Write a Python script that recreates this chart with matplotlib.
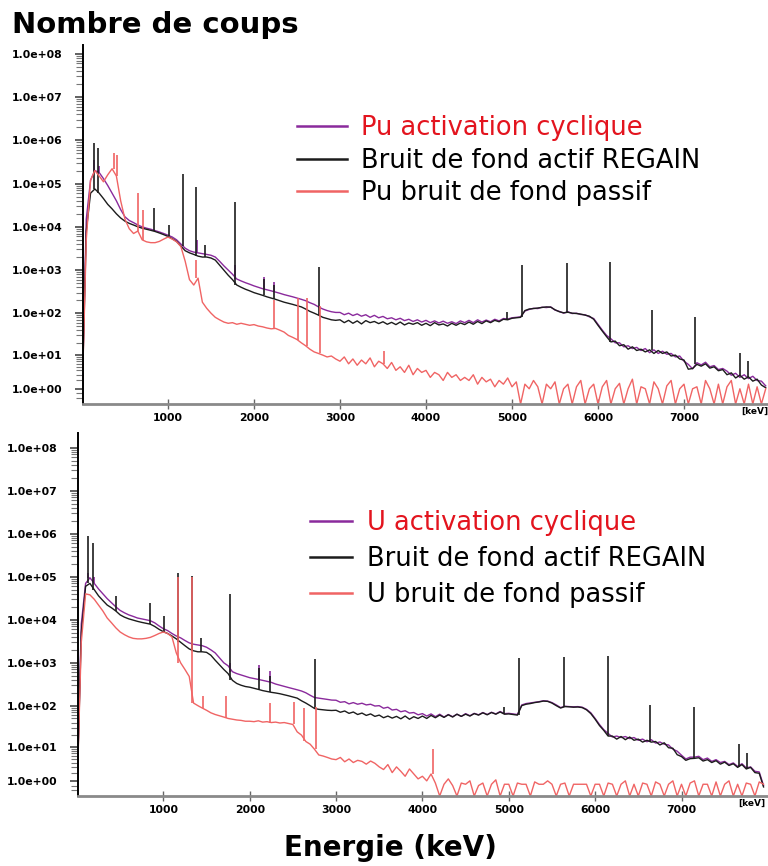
import numpy as np
import matplotlib
matplotlib.use('Agg')
import matplotlib.pyplot as plt

# Canaux en énergie (keV), pas de 50 keV
energie = np.arange(0, 8000, 50)

# --- Spectres Pu (panneau du haut), nombre de coups par canal ---
violet_haut = [
    0, 15000, 120000, 200000, 180000, 130000, 90000, 60000, 40000, 25000,   # 0-450
    17000, 14000, 12500, 11000, 10000, 9300, 8800, 8200, 7600, 7000,        # 500-950
    6400, 5800, 5000, 4000, 3200, 2800, 2600, 2500, 2400, 2300,             # 1000-1450
    2200, 2000, 1600, 1250, 1000, 800, 620, 560, 510, 470,                  # 1500-1950
    430, 400, 370, 350, 330, 310, 290, 270, 255, 240,                       # 2000-2450
    225, 210, 195, 175, 160, 140, 125, 115, 108, 104,                       # 2500-2950
    104, 92, 100, 88, 96, 85, 92, 80, 89, 78,                               # 3000-3450
    84, 74, 78, 70, 76, 67, 72, 64, 70, 62,                                 # 3500-3950
    68, 60, 66, 59, 65, 58, 63, 57, 66, 60,                                 # 4000-4450
    68, 60, 70, 62, 69, 63, 72, 66, 75, 73,                                 # 4500-4950
    78, 80, 82, 112, 122, 130, 128, 138, 135, 140,                          # 5000-5450
    118, 110, 100, 108, 98, 100, 93, 92, 82, 75,                            # 5500-5950
    55, 40, 30, 25, 20, 20, 16, 17, 14.5, 15.5,                             # 6000-6450
    13, 14.5, 11.5, 13.5, 11, 12.5, 10.5, 11, 9, 9.5,                       # 6500-6950
    7, 5.8, 4.4, 6.4, 5.6, 6.6, 5, 5.4, 4.2, 4.5,                           # 7000-7450
    3.8, 2.9, 3.3, 2.5, 3, 2.3, 2.7, 2, 1.9, 1.3,                           # 7500-7950
]
noir_haut = [
    0, 8000, 60000, 75000, 60000, 45000, 33000, 26000, 20000, 16000,
    13500, 12000, 11000, 10000, 9300, 8800, 8300, 7800, 7200, 6600,
    6000, 5300, 4600, 3600, 2800, 2500, 2300, 2100, 2000, 2000,
    1900, 1700, 1300, 1000, 760, 600, 450, 400, 360, 330,
    300, 280, 260, 240, 225, 210, 195, 180, 170, 160,
    150, 140, 125, 110, 100, 90, 80, 75, 70, 68,
    70, 60, 68, 58, 66, 56, 67, 60, 64, 57,
    63, 55, 61, 54, 62, 53, 59, 55, 60, 52,
    58, 51, 60, 53, 56, 50, 58, 52, 59, 54,
    62, 55, 64, 57, 66, 60, 68, 63, 72, 70,
    76, 78, 80, 115, 125, 128, 132, 136, 140, 138,
    120, 108, 102, 105, 100, 98, 95, 90, 85, 72,
    52, 38, 28, 21, 22, 17, 18, 14, 16, 13,
    14, 12, 13.5, 11, 13, 11, 12, 9.5, 10, 8,
    7.5, 4.3, 4.5, 5.8, 5.2, 6, 4.6, 5, 3.9, 4.2,
    3, 3.4, 2.4, 2.9, 2.2, 2.6, 1.9, 2.2, 1.4, 1.1,
]
rouge_haut = [
    0, 5000, 120000, 200000, 150000, 110000, 160000, 220000, 150000, 40000,
    15000, 9000, 7000, 8000, 5000, 4500, 4300, 4300, 4600, 5200,
    5800, 5200, 4500, 3500, 1600, 600, 450, 650, 180, 130,
    100, 80, 70, 62, 58, 60, 55, 58, 55, 52,
    54, 50, 48, 45, 43, 44, 40, 36, 30, 27,
    24, 20, 17, 14, 12, 11, 10, 9, 9.5, 8,
    7, 9, 6, 8, 5.5, 7.5, 6, 8.5, 5, 7,
    6, 4.5, 6.5, 4, 5, 3.5, 5.5, 3, 4.5, 3.5,
    4, 2.5, 3.5, 3, 2, 3.5, 2.5, 3, 2, 2.5,
    2, 3, 1.5, 2.5, 1.8, 2.2, 1.2, 2, 1.5, 2.4,
    1.2, 1.8, 0, 1.5, 1, 2, 1.2, 0, 1.5, 1,
    1.8, 0, 1, 1.5, 0, 1.2, 2, 0, 1, 1.5,
    0, 1.2, 2, 0, 1, 1.6, 0, 1, 2.2, 0,
    1.2, 1, 0, 1.8, 1, 0, 1.3, 2, 0, 1,
    1.5, 0, 1, 1.2, 0, 2, 1, 0, 1.5, 0,
    1.2, 2, 0, 1, 0, 1.5, 0, 1.2, 0, 1,
]

# Raies (énergie keV, hauteur) du panneau du haut
violet_pics_haut_e = [145, 195, 1332, 1782, 2117, 2232]
violet_pics_haut_h = [350000, 250000, 5000, 1300, 700, 520]
noir_pics_haut_e = [140, 190, 840, 1015, 1170, 1330, 1430, 1780, 2115, 2230,
                    2760, 4940, 5120, 5640, 6140, 6625, 7130, 7655, 7745]
noir_pics_haut_h = [870000, 660000, 27000, 11000, 170000, 83000, 3800, 37000, 610, 450,
                    1200, 105, 1300, 1450, 1500, 117, 80, 11.5, 7.2]
rouge_pics_haut_e = [372, 412, 655, 705, 1326, 2232, 2512, 2622, 2762, 3512]
rouge_pics_haut_h = [500000, 450000, 62000, 24000, 1700, 200, 220, 230, 150, 13]

# --- Spectres U (panneau du bas) ---
violet_bas = [
    0, 8000, 70000, 95000, 70000, 52000, 40000, 31000, 25000, 20000,
    16500, 14500, 13000, 12000, 11000, 10500, 10000, 9500, 8500, 7200,
    6200, 5600, 4800, 4200, 3800, 3300, 2900, 2700, 2600, 2500,
    2300, 2000, 1700, 1300, 1000, 850, 620, 560, 520, 480,
    450, 430, 410, 390, 370, 350, 320, 300, 280, 265,
    250, 235, 220, 200, 175, 155, 150, 145, 140, 135,
    134, 120, 124, 110, 118, 108, 114, 104, 108, 98,
    100, 87, 92, 79, 82, 72, 76, 67, 69, 61,
    65, 57, 64, 55, 63, 54, 62, 55, 63, 56,
    65, 58, 66, 61, 69, 62, 70, 64, 73, 65,
    66, 64, 62, 104, 112, 116, 120, 124, 130, 128,
    118, 104, 90, 97, 95, 94, 95, 92, 82, 68,
    50, 36, 27, 22, 18, 19, 17.5, 18.5, 16.5, 17.5,
    15, 16, 13.8, 15.5, 12.8, 13.6, 12, 11.5, 9, 8,
    6.3, 5, 5.6, 5.6, 5.9, 4.8, 5.3, 4.3, 4.8, 4,
    4.3, 3.5, 3.9, 3.1, 3.7, 2.8, 3, 2.2, 2.1, 0.6,
]
noir_bas = [
    0, 5000, 60000, 70000, 50000, 36000, 28000, 22000, 19000, 16000,
    13000, 11500, 10500, 9800, 9200, 8700, 8300, 7900, 7000, 6000,
    5300, 4800, 4200, 3600, 3000, 2500, 2100, 1900, 1800, 1800,
    1750, 1500, 1150, 900, 700, 560, 390, 330, 300, 280,
    270, 255, 240, 225, 215, 205, 198, 190, 180, 170,
    160, 150, 130, 115, 100, 86, 82, 80, 78, 77,
    78, 70, 75, 66, 71, 62, 67, 59, 64, 56,
    60, 52, 57, 51, 56, 49, 57, 48, 55, 50,
    57, 50, 59, 52, 60, 53, 61, 54, 63, 56,
    63, 57, 65, 60, 68, 61, 69, 63, 71, 63,
    64, 62, 60, 100, 108, 112, 118, 122, 128, 126,
    115, 100, 88, 95, 94, 92, 93, 90, 80, 65,
    48, 34, 26, 19, 19, 16, 18.5, 15.5, 18, 15,
    16, 13.5, 15, 13.5, 14, 11.5, 13, 9.8, 9.5, 6.5,
    5.8, 4.6, 5.1, 5.2, 5.4, 4.4, 4.8, 4, 4.5, 3.6,
    4.1, 3.3, 3.7, 2.9, 3.5, 2.6, 2.9, 2, 1.9, 0.5,
]
rouge_bas = [
    0, 3000, 40000, 38000, 30000, 22000, 16000, 11000, 8500, 6500,
    5200, 4500, 4000, 3700, 3600, 3600, 3700, 3900, 4300, 4800,
    5200, 4800, 4000, 1700, 1000, 700, 480, 115, 100, 88,
    78, 68, 62, 58, 54, 50, 48, 46, 45, 43,
    43, 42, 44, 41, 42, 40, 41, 39, 40, 38,
    36, 24, 20, 14, 12, 9, 6.4, 6, 5.5, 5,
    4.8, 5.5, 4.2, 5, 4, 4.6, 4.3, 3.6, 4.4, 3.8,
    3, 2.5, 3.5, 2, 3, 2.2, 1.5, 2.6, 1.8, 1.2,
    1.5, 1, 1.8, 0.8, 0, 0.7, 1.2, 0.6, 0, 0.8,
    0.7, 1, 0, 0.6, 0.8, 0, 0.7, 1.1, 0, 0.7,
    0.7, 0, 0.8, 0.7, 0.7, 0, 0.9, 0.7, 0.7, 1,
    0.7, 0, 0.7, 0.8, 0, 0.7, 0.7, 0.7, 0.7, 0,
    0.7, 0.7, 0, 0.8, 0.7, 0, 0.7, 1, 0, 0.7,
    0, 0.8, 0.7, 0, 0.9, 0.7, 0, 0.7, 1, 0,
    0.7, 0, 0.8, 1, 0, 0.7, 0.7, 0, 0.9, 0,
    0.7, 1, 0, 0.7, 0, 0.8, 0.7, 0, 0.9, 0.7,
]

violet_pics_bas_e = [132, 192, 1777, 2112, 2232]
violet_pics_bas_h = [120000, 100000, 1000, 900, 640]
noir_pics_bas_e = [130, 190, 455, 840, 1005, 1175, 1330, 1440, 1775, 2110,
                   2230, 2760, 4940, 5120, 5640, 6145, 6630, 7145, 7660, 7755]
noir_pics_bas_h = [900000, 620000, 36000, 25000, 12000, 120000, 105000, 3800, 40000, 760,
                   500, 1230, 95, 1290, 1380, 1400, 104, 93, 12, 7]
rouge_pics_bas_e = [1175, 1332, 1460, 1730, 2230, 2510, 2630, 2765, 4120]
rouge_pics_bas_h = [100000, 100000, 170, 170, 115, 125, 86, 95, 9.2]

graduations_y = [1, 10, 100, 1e3, 1e4, 1e5, 1e6, 1e7, 1e8]
graduations_x = [1000, 2000, 3000, 4000, 5000, 6000, 7000]

COUL_VIOLET = '#8a2a9c'
COUL_NOIR = '#1c1c1c'
COUL_ROUGE = '#f06464'


def transfo(y):
    return np.log10(np.clip(y, 0, None) + 0.8)


def transfo_inv(t):
    return 10.0 ** t - 0.8


def tracer(ax, continu, pics_e, pics_h, couleur):
    # continuum + raies verticales posées sur le canal le plus proche
    ligne, = ax.plot(energie, continu, color=couleur, lw=1.0)
    idx = np.clip(np.round(np.asarray(pics_e) / 50).astype(int), 0, len(energie) - 1)
    base = np.asarray(continu, dtype=float)[idx]
    ax.vlines(pics_e, base, pics_h, color=couleur, lw=1.2)
    return ligne


def habiller(ax, xmax, ymax):
    ax.set_yscale('function', functions=(transfo, transfo_inv))
    ax.set_xlim(12, xmax)
    ax.set_ylim(0, ymax)
    for cote in ['top', 'right']:
        ax.spines[cote].set_visible(False)
    ax.spines['left'].set_color('black')
    ax.spines['left'].set_linewidth(1.4)
    ax.spines['bottom'].set_color('#8a8a8a')
    ax.spines['bottom'].set_linewidth(2)
    ax.set_yticks(graduations_y, labels=[f'{v:.1e}' for v in graduations_y],
                  fontweight='bold', fontsize=7.8)
    mineures = [m * 10 ** k for k in range(0, 8) for m in range(2, 10)] + [0.3, 0.6]
    ax.set_yticks(mineures, minor=True)
    ax.tick_params(axis='y', which='major', length=6, width=1.3, color='#555555', pad=9)
    ax.tick_params(axis='y', which='minor', length=5, width=0.8, color='#777777')
    ax.set_xticks(graduations_x, labels=[str(v) for v in graduations_x],
                  fontweight='bold', fontsize=7.8)
    ax.tick_params(axis='x', direction='inout', length=7, width=1, color='#666666', pad=3)


fig = plt.figure(figsize=(7.68, 8.66), dpi=100)
ax_haut = fig.add_axes([83 / 768, 1 - 404 / 866, 684 / 768, 359 / 866])
ax_bas = fig.add_axes([78 / 768, 1 - 796 / 866, 689 / 768, 363 / 866])

panneaux = [
    (ax_haut, 'Pu', violet_haut, noir_haut, rouge_haut,
     (violet_pics_haut_e, violet_pics_haut_h), (noir_pics_haut_e, noir_pics_haut_h),
     (rouge_pics_haut_e, rouge_pics_haut_h), 7965, 1.6e8, (297, 115), 0.26, 1.95),
    (ax_bas, 'U', violet_bas, noir_bas, rouge_bas,
     (violet_pics_bas_e, violet_pics_bas_h), (noir_pics_bas_e, noir_pics_bas_h),
     (rouge_pics_bas_e, rouge_pics_bas_h), 7990, 2.2e8, (310, 510), 0.38, 1.65),
]

for ax, elem, v, n, r, pv, pn, pr, xmax, ymax, pos_leg, esp, long_trait in panneaux:
    lv = tracer(ax, v, *pv, COUL_VIOLET)
    ln = tracer(ax, n, *pn, COUL_NOIR)
    lr = tracer(ax, r, *pr, COUL_ROUGE)
    habiller(ax, xmax, ymax)
    leg = ax.legend([lv, ln, lr],
                    [f'{elem} activation cyclique', 'Bruit de fond actif REGAIN',
                     f'{elem} bruit de fond passif'],
                    loc='upper left', bbox_to_anchor=(pos_leg[0] / 768, 1 - pos_leg[1] / 866),
                    bbox_transform=fig.transFigure, frameon=False, fontsize=18.5,
                    handlelength=long_trait, handletextpad=0.55, labelspacing=esp,
                    borderpad=0, borderaxespad=0)
    leg.get_texts()[0].set_color('#e3141e')
    for h in leg.legend_handles:
        h.set_linewidth(1.8)

fig.text(741 / 768, 1 - 411 / 866, '[keV]', fontsize=6.5, fontweight='bold', va='center')
fig.text(738 / 768, 1 - 803 / 866, '[keV]', fontsize=6.5, fontweight='bold', va='center')

fig.text(12 / 768, 1 - 33 / 866, 'Nombre de coups', fontsize=21, fontweight='bold', va='baseline')
fig.text(390 / 768, 1 - 856 / 866, 'Energie (keV)', fontsize=20, fontweight='bold',
         ha='center', va='baseline')

fig.savefig('out.png', dpi=100, facecolor='white')
